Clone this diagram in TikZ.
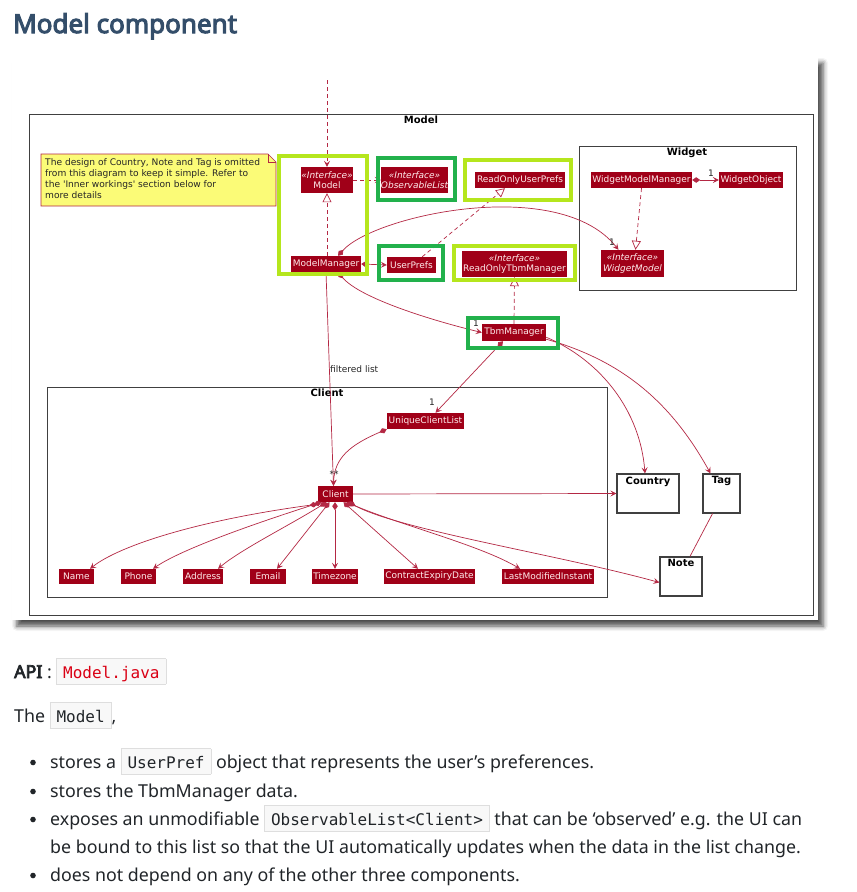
\documentclass[tikz,border=0pt]{standalone}
\usepackage{fontspec}
\setmainfont{Noto Sans}[AutoFakeBold=4]
\setmonofont{DejaVu Sans Mono}
\newfontfamily\umlfont{DejaVu Sans}
\usetikzlibrary{arrows.meta,shadows.blur}

\definecolor{umlred}{RGB}{160,0,24}
\definecolor{umlline}{RGB}{180,40,68}
\definecolor{notefill}{RGB}{251,251,119}
\definecolor{limegreen}{RGB}{181,230,29}
\definecolor{paintgreen}{RGB}{34,177,76}
\definecolor{headblue}{RGB}{52,78,106}
\definecolor{bodyblack}{RGB}{33,37,41}
\definecolor{codefill}{RGB}{248,248,248}
\definecolor{codeline}{RGB}{222,222,222}
\definecolor{codered}{RGB}{218,0,20}

\newcommand{\codebit}[2][bodyblack]{{\setlength{\fboxsep}{0pt}\setlength{\fboxrule}{0.8pt}%
  \fcolorbox{codeline}{codefill}{\hspace{6pt}\rule[-6pt]{0pt}{25pt}\textcolor{#1}{\fontsize{16}{16}\selectfont\ttfamily #2}\hspace{6pt}}}}

\begin{document}
\begin{tikzpicture}[x=1pt, y=-1pt,
  every node/.style={inner sep=0pt},
  cls/.style={fill=umlred, text=white!92!red, font=\umlfont\fontsize{9}{10.5}\selectfont, minimum height=16pt, align=center},
  attr/.style={cls, minimum height=15pt},
  pkg/.style={draw=black!75, line width=1pt},
  ttl/.style={font=\umlfont\bfseries\fontsize{10}{11}\selectfont, text=black},
  plainbox/.style={draw=black!75, line width=1.2pt, fill=white},
  lbl/.style={font=\umlfont\fontsize{9}{11}\selectfont, text=black!85},
  uml/.style={draw=umlline, line width=0.7pt},
  assoc/.style={uml, -{Stealth[length=6pt,width=6pt,inset=2.5pt]}},
  comp/.style={uml, {Diamond[length=8pt,width=5.5pt]}-{Stealth[length=6pt,width=6pt,inset=2.5pt]}},
  dep/.style={assoc, dash pattern=on 4pt off 3pt},
  real/.style={uml, dash pattern=on 4pt off 3pt, -{Triangle[length=9pt,width=9pt,fill=white]}},
  hilite/.style={line width=4pt},
  body/.style={font=\fontsize{17.8}{22}\selectfont, text=bodyblack, anchor=base west}
]
\useasboundingbox (0,0) rectangle (857,892);

% Heading
\node[anchor=base west, font=\bfseries\fontsize{26}{32}\selectfont, text=headblue] (heading) at (13,33) {Model component};

% Diagram frame
\fill[white, blur shadow={shadow xshift=5pt, shadow yshift=-6pt, shadow blur radius=5pt, shadow opacity=70}] (12,57) rectangle (818,620);

% Packages
\draw[pkg] (29,114) rectangle (813,615);
\node[ttl, anchor=north] (modelttl) at (421,116) {Model};
\draw[pkg] (579,146) rectangle (796,290);
\node[ttl, anchor=north] (widgetttl) at (687,148) {Widget};
\draw[pkg] (47,387) rectangle (607,597);
\node[ttl, anchor=north] (clientttl) at (327,389) {Client};

% Note
\filldraw[fill=notefill, draw=umlline, line width=0.6pt] (41,154) -- (268,154) -- (276,162) -- (276,206) -- (41,206) -- cycle;
\draw[umlline, line width=0.6pt] (268,154) -- (268,162) -- (276,162);
\node[lbl, anchor=north west, align=left, font=\umlfont\fontsize{9.1}{11}\selectfont] (notetext) at (45,158) {The design of Country, Note and Tag is omitted\\from this diagram to keep it simple. Refer to\\the \textquotesingle Inner workings\textquotesingle{} section below for\\more details};

% Classes
\node[cls, minimum width=52pt, minimum height=26pt] (model) at (327,180) {{\itshape «Interface»}\\Model};
\node[cls, minimum width=67pt, minimum height=26pt] (obslist) at (414.5,180) {{\itshape «Interface»}\\{\itshape ObservableList}};
\node[cls, minimum width=90pt] (roprefs) at (520,180) {ReadOnlyUserPrefs};
\node[cls, minimum width=70pt] (mgr) at (326,264) {ModelManager};
\node[cls, minimum width=49pt] (prefs) at (411.5,265) {UserPrefs};
\node[cls, minimum width=105pt, minimum height=26pt] (rotbm) at (514.5,264) {{\itshape «Interface»}\\ReadOnlyTbmManager};
\node[cls, minimum width=64pt, minimum height=17pt] (tbm) at (514,332.5) {TbmManager};
\node[cls, minimum width=101pt] (wmm) at (641.5,180) {WidgetModelManager};
\node[cls, minimum width=64pt] (wobj) at (751,180) {WidgetObject};
\node[cls, minimum width=63pt, minimum height=27pt] (wmodel) at (632.5,263.5) {{\itshape «Interface»}\\{\itshape WidgetModel}};
\node[cls, minimum width=77pt] (ucl) at (425.5,421) {UniqueClientList};
\node[cls, minimum width=35pt] (client) at (335.5,494) {Client};

% Client attributes
\node[attr, minimum width=35pt] (name) at (76.5,576.5) {Name};
\node[attr, minimum width=35pt] (phone) at (138.5,576.5) {Phone};
\node[attr, minimum width=40pt] (address) at (203,576.5) {Address};
\node[attr, minimum width=36pt] (email) at (268,576.5) {Email};
\node[attr, minimum width=46pt] (tz) at (335,576.5) {Timezone};
\node[attr, minimum width=91pt] (ced) at (429.5,576.5) {ContractExpiryDate};
\node[attr, minimum width=92pt] (lmi) at (548,576.5) {LastModifiedInstant};

% Boxes outside Client
\node[plainbox, minimum width=62pt, minimum height=39pt] (country) at (648,493.5) {};
\node[ttl, anchor=north] (countryttl) at ([yshift=-3pt]country.north) {Country};
\node[plainbox, minimum width=37pt, minimum height=39pt] (tag) at (721.5,493.5) {};
\node[ttl, anchor=north] (tagttl) at ([yshift=-3pt]tag.north) {Tag};
\node[plainbox, minimum width=42pt, minimum height=39pt] (note) at (681,576.5) {};
\node[ttl, anchor=north] (notettl) at ([yshift=-3pt]note.north) {Note};

% Connectors
\coordinate (entry) at (327,80);
\draw[dep] (entry) -- (model.north);
\draw[dep] (model.east) -- (obslist.west);
\draw[real] (mgr.north -| model.south) -- (model.south);
\draw[comp] (mgr.east) -- (prefs.west);
\draw[real] ([xshift=-14pt]prefs.north east) -- ([xshift=-15pt]roprefs.south);
\draw[comp] ([xshift=12pt]mgr.north) .. controls (375,215) and (560,175) .. ([xshift=-14pt]wmodel.north);
\node[lbl] (onewm) at (612,242) {1};
\draw[comp] ([xshift=12pt]mgr.south) .. controls (360,298) and (430,320) .. (tbm.west);
\node[lbl] (onetbm) at (476,323) {1};
\draw[comp] (wmm.east) -- (wobj.west);
\node[lbl] (onewo) at (711,173) {1};
\draw[real] (wmm.south) -- ([xshift=3pt]wmodel.north);
\draw[real] (tbm.north) -- (rotbm.south);
\draw[assoc] (mgr.south) -- ([xshift=-2pt]client.north);
\node[lbl, anchor=west] (filtered) at (330,369) {filtered list};
\draw[comp] ([xshift=-11pt]tbm.south) -- ([xshift=10pt]ucl.north);
\node[lbl] (oneucl) at (432,402) {1};
\draw[comp] (ucl.south west) .. controls (350,445) and (334,458) .. ([xshift=-2pt]client.north);
\node[lbl] (stars) at (334,474) {**};
\draw[assoc] ([yshift=4pt]tbm.south east) .. controls (600,360) and (640,410) .. ([xshift=-3pt]country.north);
\draw[assoc] ([yshift=2pt]tbm.south east) .. controls (620,360) and (670,400) .. ([xshift=-11pt]tag.north);
\draw[assoc] (client.east) -- (country.west);
\draw[uml] ([xshift=-9pt]tag.south) -- ([xshift=9pt]note.north);
\draw[comp] ([xshift=13pt]client.south) .. controls (400,530) and (560,555) .. ([yshift=-6pt]note.west);
\draw[comp] ([xshift=-18pt,yshift=-2pt]client.south) .. controls (200,520) and (120,545) .. ([xshift=13.5pt]name.north);
\draw[comp] ([xshift=-14pt]client.south) .. controls (250,525) and (180,550) .. ([xshift=14.5pt]phone.north);
\draw[comp] ([xshift=-9pt]client.south) .. controls (290,525) and (240,550) .. ([xshift=15pt]address.north);
\draw[comp] ([xshift=-6pt]client.south) -- ([xshift=9pt]email.north);
\draw[comp] (client.south -| tz.north) -- (tz.north);
\draw[comp] ([xshift=8pt]client.south) -- ([xshift=-11.5pt]ced.north);
\draw[comp] ([xshift=11pt]client.south) .. controls (400,525) and (480,545) .. ([xshift=-28pt]lmi.north);

% Highlights
\draw[hilite, limegreen] (279,156) rectangle (367,274);
\draw[hilite, limegreen] (465,160) rectangle (571,200);
\draw[hilite, limegreen] (454,246) rectangle (575,280);
\draw[hilite, paintgreen] (378,158) rectangle (455,200);
\draw[hilite, paintgreen] (379,246) rectangle (443,280);
\draw[hilite, paintgreen] (468,318) rectangle (558,348);

% Text below
\node[body] (api) at (14,678) {\textbf{API} : \codebit[codered]{Model.java}};
\node[body] (the) at (14,722) {The \codebit{Model},};
\foreach \y in {768,797,825,881}
  \fill[bodyblack] (33,\y-5.5) circle (2.8pt);
\node[body] (pref) at (50,768) {stores a \codebit{UserPref} object that represents the user’s preferences.};
\node[body] (data) at (50,797) {stores the TbmManager data.};
\node[body] (exposes) at (50,825) {exposes an unmodifiable \codebit{ObservableList<Client>} that can be ‘observed’ e.g. the UI can};
\node[body] (bound) at (50,853) {be bound to this list so that the UI automatically updates when the data in the list change.};
\node[body] (depend) at (50,881) {does not depend on any of the other three components.};
\end{tikzpicture}
\end{document}
